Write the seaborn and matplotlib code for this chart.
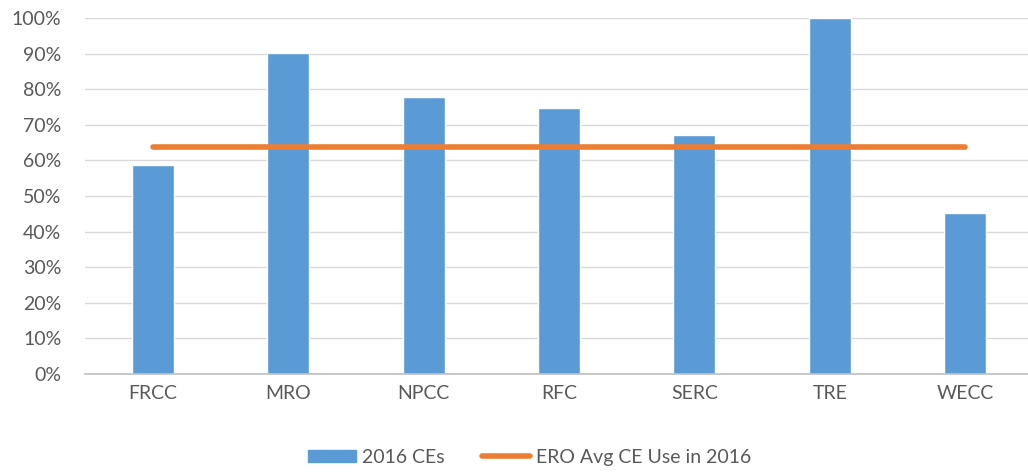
import matplotlib
matplotlib.use("Agg")
import matplotlib.pyplot as plt
import matplotlib.ticker as mtick
from matplotlib.patches import Patch
from matplotlib.lines import Line2D
import seaborn as sns
import pandas as pd

regions = ["FRCC", "MRO", "NPCC", "RFC", "SERC", "TRE", "WECC"]
ce_2016 = [0.587, 0.902, 0.778, 0.747, 0.671, 1.00, 0.452]
ero_avg = 0.638

bar_color = "#5B9BD5"
line_color = "#ED7D31"
text_color = "#595959"

sns.set_style("white")
plt.rcParams["font.family"] = ["Lato", "DejaVu Sans"]

df = pd.DataFrame({"Region": regions, "CE": ce_2016})
avg_df = pd.DataFrame({"Region": regions, "Avg": [ero_avg] * len(regions)})

fig = plt.figure(figsize=(10.28, 4.74), dpi=100)
ax = fig.add_axes([0.0827, 0.211, 0.922, 0.751])

sns.barplot(data=df, x="Region", y="CE", color=bar_color, width=0.31,
            saturation=1, ax=ax)
sns.lineplot(data=avg_df, x="Region", y="Avg", color=line_color, lw=4,
             solid_capstyle="round", ax=ax)

ax.set_ylim(0, 1)
ax.set_xlim(-0.5, 6.5)
ax.yaxis.set_major_locator(mtick.MultipleLocator(0.1))
ax.yaxis.set_major_formatter(mtick.PercentFormatter(1.0, decimals=0))
ax.grid(axis="y", color="#D9D9D9", lw=1)
ax.set_axisbelow(True)
for s in ["top", "right", "left"]:
    ax.spines[s].set_visible(False)
ax.spines["bottom"].set_color("#BFBFBF")
ax.spines["bottom"].set_linewidth(1.2)
ax.tick_params(axis="both", length=0, labelsize=14, labelcolor=text_color)
ax.tick_params(axis="x", pad=8)
ax.tick_params(axis="y", pad=17)
ax.set_xlabel("")
ax.set_ylabel("")

handles = [Patch(color=bar_color),
           Line2D([0], [0], color=line_color, lw=4, solid_capstyle="round")]
fig.legend(handles, ["2016 CEs", "ERO Avg CE Use in 2016"], loc="center",
           bbox_to_anchor=(0.515, 0.035), ncol=2, frameon=False,
           fontsize=14, labelcolor=text_color, handlelength=2.5,
           handleheight=0.6, handletextpad=0.3, columnspacing=1.9)

fig.savefig("out.png", dpi=100)
